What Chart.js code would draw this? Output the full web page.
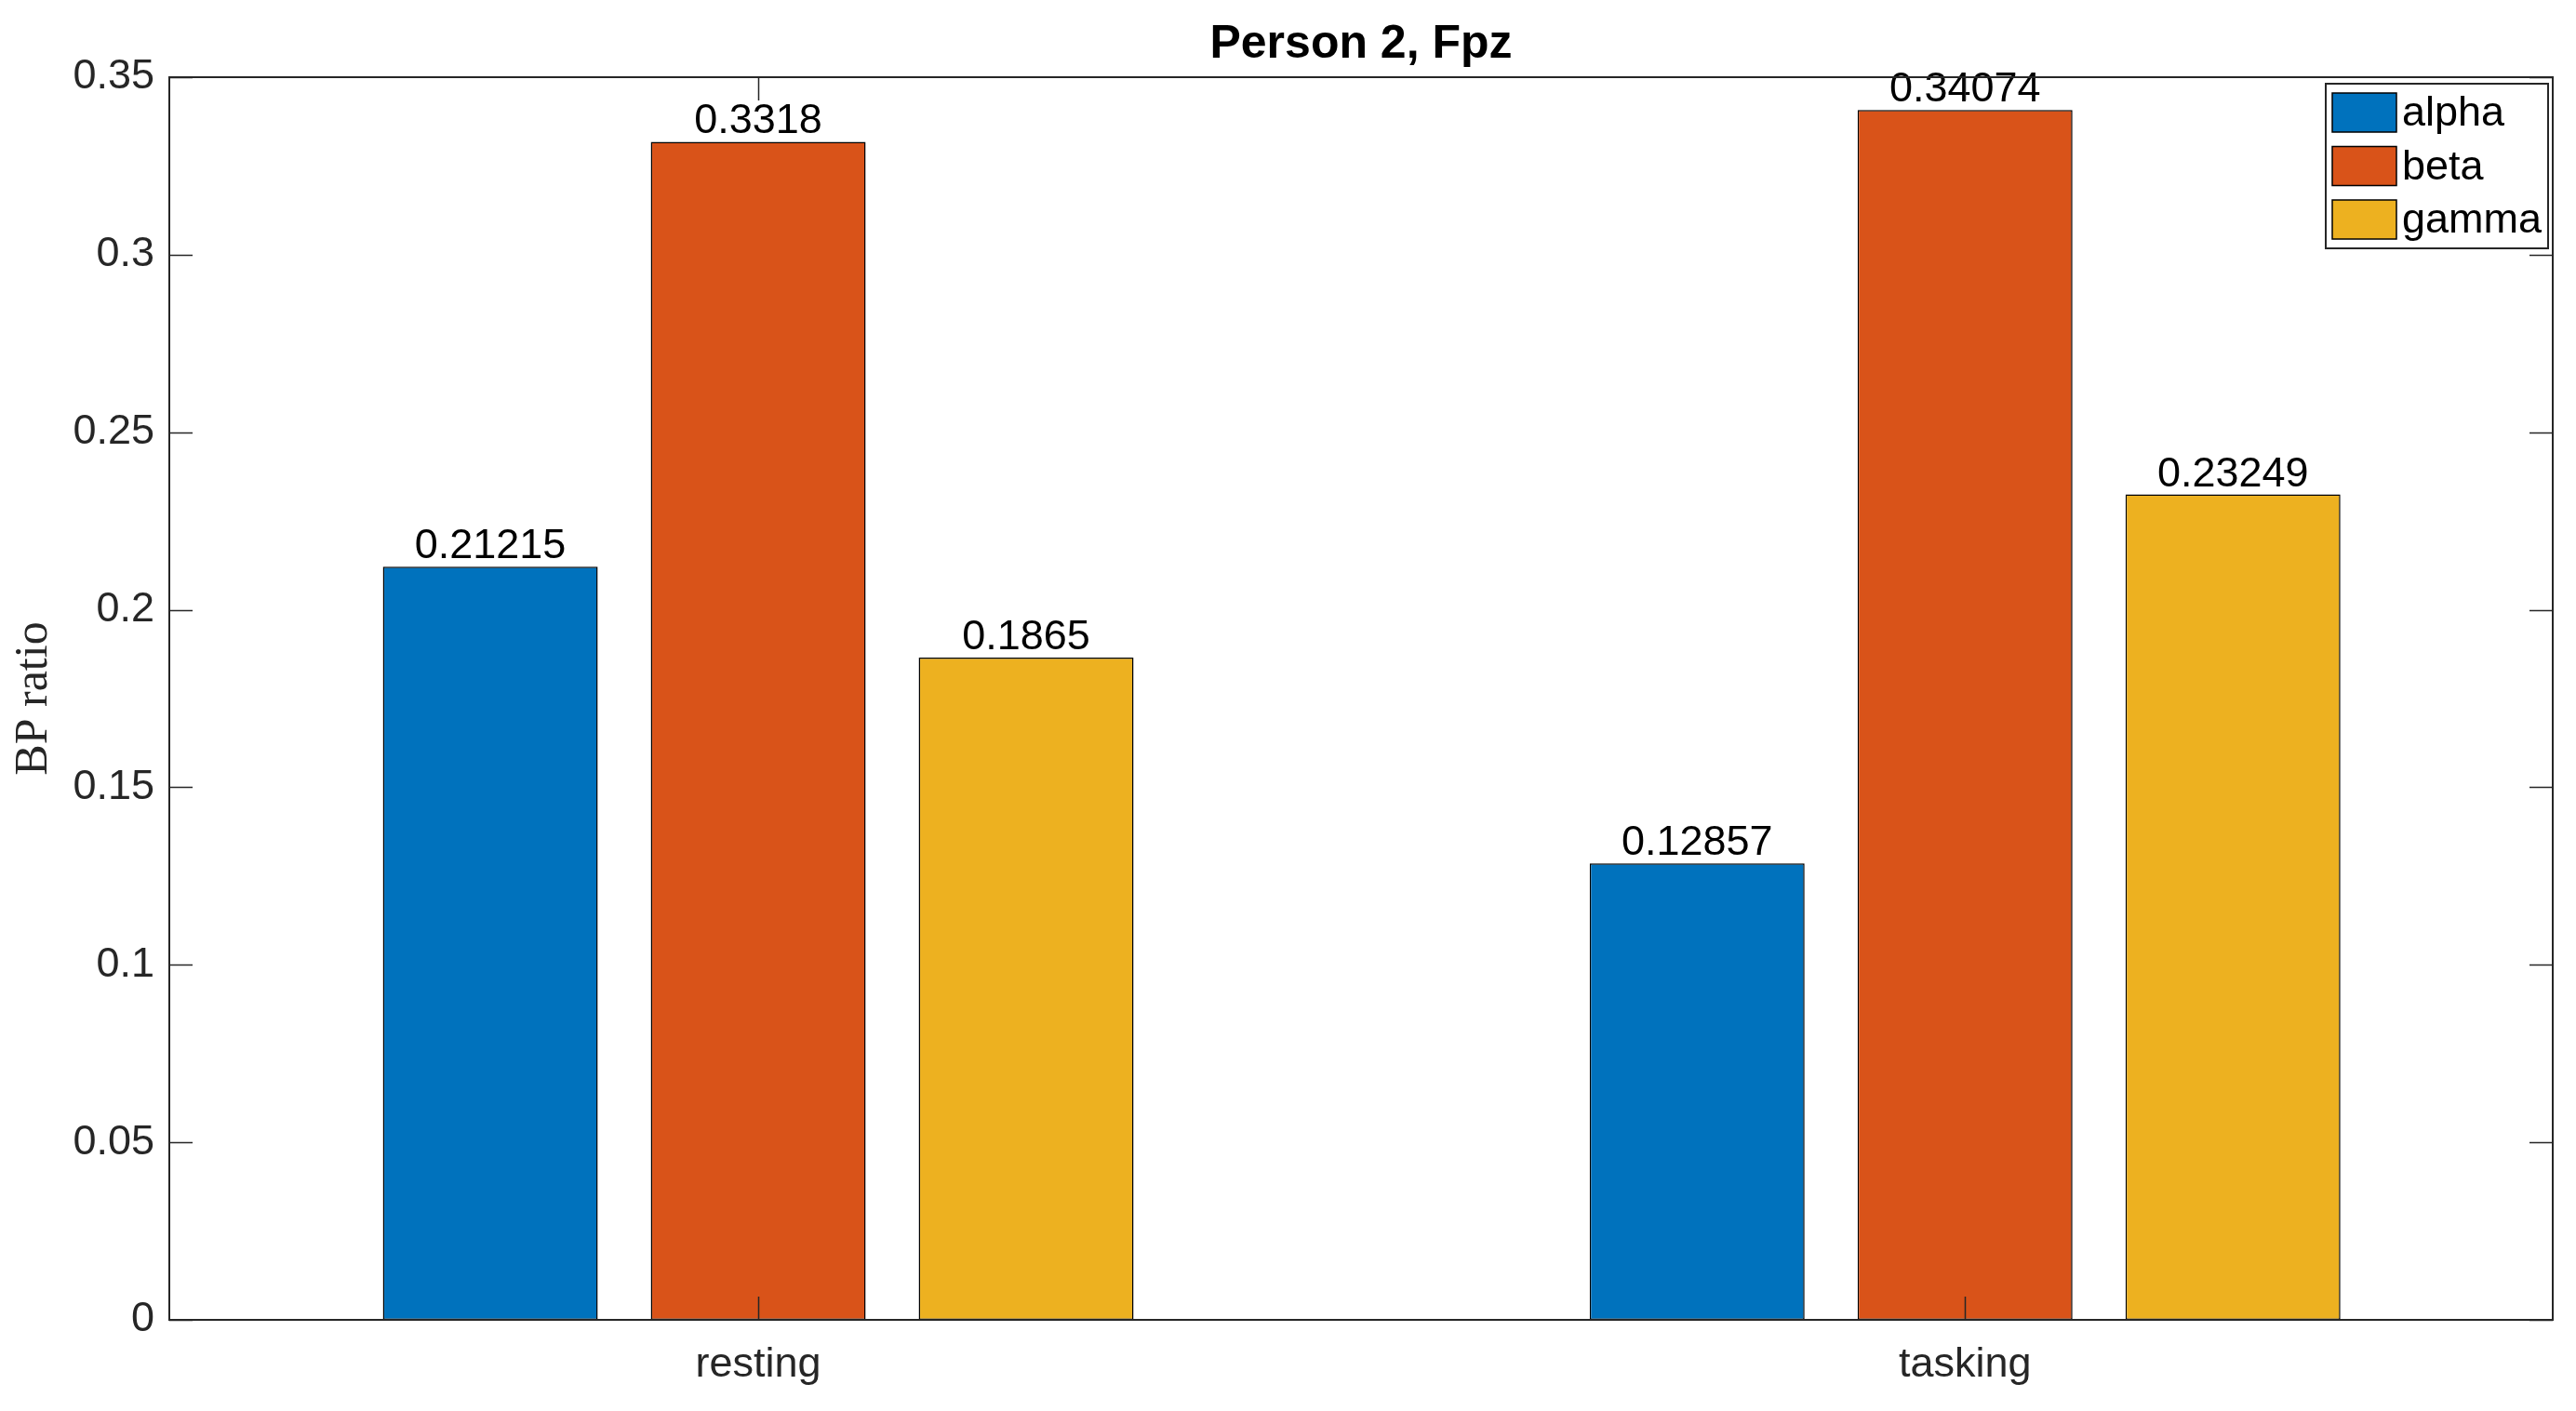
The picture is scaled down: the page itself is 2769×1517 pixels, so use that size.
<!DOCTYPE html>
<html>
<head>
<meta charset="utf-8">
<script src="https://cdn.jsdelivr.net/npm/chart.js@4.4.0/dist/chart.umd.min.js"></script>
<style>
  html, body { margin: 0; padding: 0; background: #ffffff; }
  #wrap { width: 2769px; height: 1517px; }
</style>
</head>
<body>
<div id="wrap"><canvas id="c" width="2769" height="1517"></canvas></div>
<script>
const chartTitle = 'Person 2, Fpz';
const categories = ['resting', 'tasking'];
const seriesNames = ['alpha', 'beta', 'gamma'];
const alphaValues = [0.21215, 0.12857];
const betaValues = [0.3318, 0.34074];
const gammaValues = [0.1865, 0.23249];
const yTickValues = [0, 0.05, 0.1, 0.15, 0.2, 0.25, 0.3, 0.35];
const yAxisTitle = 'BP ratio';

// x-axis limits (in category-index units), as in the MATLAB figure
const xAxisMin = -0.488;
const xAxisMax = 1.487;

const colors = ['#0072BD', '#D95319', '#EDB120'];
const axisColor = '#262626';
const sansFont = "'Liberation Sans', Arial, Helvetica, sans-serif";
const serifFont = "'Liberation Serif', 'Times New Roman', serif";

const seriesValues = [alphaValues, betaValues, gammaValues];

const matlabDecor = {
  id: 'matlabDecor',
  afterDatasetsDraw(chart) {
    const ctx = chart.ctx;
    const a = chart.chartArea;
    const xs = chart.scales.x, ys = chart.scales.y;
    ctx.save();
    // data labels
    ctx.font = '45px ' + sansFont;
    ctx.fillStyle = '#000000';
    ctx.textAlign = 'center';
    ctx.textBaseline = 'alphabetic';
    chart.data.datasets.forEach((ds, i) => {
      const meta = chart.getDatasetMeta(i);
      meta.data.forEach((bar, j) => {
        ctx.fillText(String(ds.data[j]), bar.x, bar.y - 9);
      });
    });
    // axes box
    ctx.strokeStyle = axisColor;
    ctx.lineWidth = 2;
    ctx.strokeRect(a.left, a.top, a.right - a.left, a.bottom - a.top);
    const tl = 25;
    ctx.beginPath();
    yTickValues.forEach(v => {
      const y = Math.round(ys.getPixelForValue(v)) + 0.5;
      ctx.moveTo(a.left, y); ctx.lineTo(a.left + tl, y);
      ctx.moveTo(a.right, y); ctx.lineTo(a.right - tl, y);
    });
    categories.forEach((c, i) => {
      const x = Math.round(xs.getPixelForValue(i)) + 0.5;
      ctx.moveTo(x, a.bottom); ctx.lineTo(x, a.bottom - tl);
      ctx.moveTo(x, a.top); ctx.lineTo(x, a.top + tl);
    });
    ctx.lineWidth = 1.5;
    ctx.stroke();
    // title
    ctx.font = 'bold 50px ' + sansFont;
    ctx.fillStyle = '#000000';
    ctx.textAlign = 'center';
    ctx.textBaseline = 'alphabetic';
    ctx.fillText(chartTitle, (a.left + a.right) / 2, 62);
    // legend
    const lx = 2500, ly = 90, lw = 239, lh = 177;
    ctx.fillStyle = '#ffffff';
    ctx.fillRect(lx, ly, lw, lh);
    ctx.strokeStyle = axisColor;
    ctx.lineWidth = 2;
    ctx.strokeRect(lx, ly, lw, lh);
    ctx.font = '45px ' + sansFont;
    ctx.textAlign = 'left';
    ctx.textBaseline = 'middle';
    seriesNames.forEach((name, i) => {
      const cy = 121 + i * 57.5;
      ctx.fillStyle = colors[i];
      ctx.fillRect(2507, cy - 21, 69, 42);
      ctx.strokeStyle = '#000000';
      ctx.lineWidth = 1.5;
      ctx.strokeRect(2507, cy - 21, 69, 42);
      ctx.fillStyle = '#000000';
      ctx.fillText(name, 2582, cy + 2);
    });
    ctx.restore();
  }
};

const chart = new Chart(document.getElementById('c'), {
  type: 'bar',
  data: {
    labels: categories,
    datasets: seriesNames.map((name, i) => ({
      label: name,
      data: seriesValues[i],
      backgroundColor: colors[i],
      borderColor: '#000000',
      borderWidth: 1.5,
      borderSkipped: false,
      categoryPercentage: 0.666,
      barPercentage: 0.802
    }))
  },
  options: {
    responsive: false,
    animation: false,
    devicePixelRatio: 1,
    layout: { padding: { top: 83, right: 25, left: 0, bottom: 0 } },
    plugins: {
      legend: { display: false },
      title: { display: false },
      tooltip: { enabled: false }
    },
    scales: {
      x: {
        type: 'category',
        offset: true,
        grid: { display: false, drawTicks: false },
        border: { display: false },
        ticks: {
          color: axisColor,
          font: { family: sansFont, size: 45 },
          padding: 22,
          maxRotation: 0
        },
        afterFit(scale) { scale.height = 98; },
        afterUpdate(scale) {
          scale._startValue = xAxisMin;
          scale._valueRange = xAxisMax - xAxisMin;
        }
      },
      y: {
        min: 0,
        max: 0.35,
        grid: { display: false, drawTicks: false },
        border: { display: false },
        afterBuildTicks(scale) { scale.ticks = yTickValues.map(v => ({ value: v })); },
        ticks: {
          color: axisColor,
          font: { family: sansFont, size: 45 },
          padding: 16,
          callback: (v) => String(parseFloat(Number(v).toFixed(4)))
        },
        title: {
          display: true,
          text: yAxisTitle,
          color: axisColor,
          font: { family: serifFont, size: 50 },
          padding: { top: 7, bottom: 0 }
        },
        afterFit(scale) { scale.width = 182; }
      }
    }
  },
  plugins: [matlabDecor]
});
</script>
</body>
</html>
